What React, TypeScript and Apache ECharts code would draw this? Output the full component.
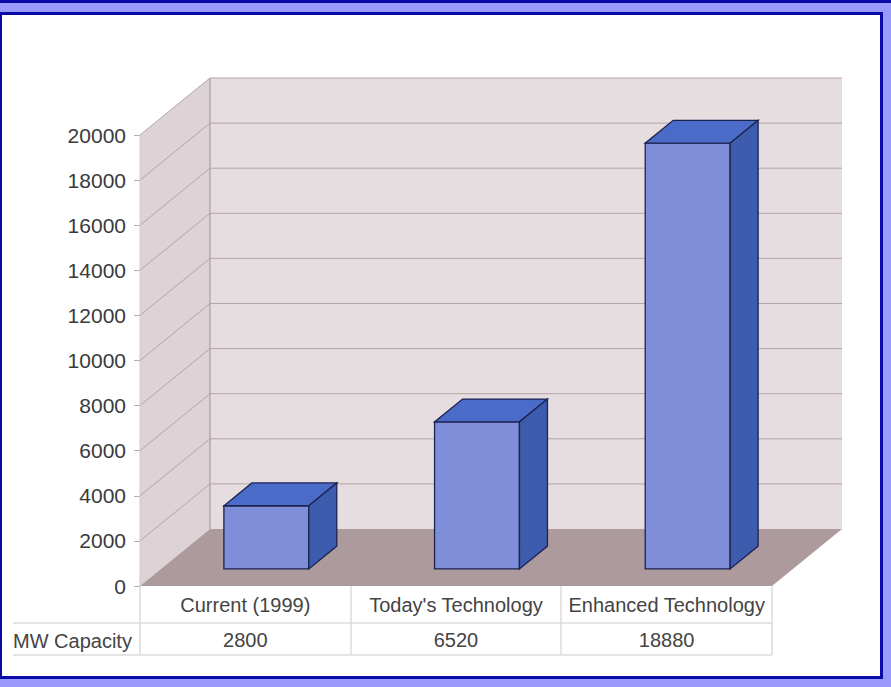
import React, { useEffect, useRef } from "react";
import * as echarts from "echarts";

// ---- data ----
const categories = ["Current (1999)", "Today's Technology", "Enhanced Technology"];
const capacityMW = [2800, 6520, 18880];
const rowLabel = "MW Capacity";
const yMin = 0;
const yMax = 20000;
const yStep = 2000;

// ---- 3D look ----
const DX = 70; // wall depth offset
const DY = -57;
const BAR_FRONT = 0.3; // bar front at fraction of depth
const BAR_BACK = 0.7;
const FONT = "'Liberation Sans', Arial, sans-serif";

export default function App() {
  const ref = useRef<HTMLDivElement>(null);

  useEffect(() => {
    if (!ref.current) return;
    const chart = echarts.init(ref.current, undefined, { renderer: "svg" });

    const tickVals: number[] = [];
    for (let v = yMin; v <= yMax; v += yStep) tickVals.push(v);

    const wallsRender = (params: any, api: any) => {
      const cs = params.coordSys;
      const left = cs.x;
      const right = cs.x + cs.width;
      const top = cs.y;
      const bottom = cs.y + cs.height;
      const children: any[] = [];
      children.push({
        type: "polygon",
        shape: { points: [[left, top], [left + DX, top + DY], [left + DX, bottom + DY], [left, bottom]] },
        style: { fill: "#ddd3d7" },
      });
      children.push({
        type: "polygon",
        shape: { points: [[left + DX, top + DY], [right + DX, top + DY], [right + DX, bottom + DY], [left + DX, bottom + DY]] },
        style: { fill: "#e6dde1" },
      });
      children.push({
        type: "polygon",
        shape: { points: [[left, bottom], [right, bottom], [right + DX, bottom + DY], [left + DX, bottom + DY]] },
        style: { fill: "#ad9a9c" },
      });
      tickVals.forEach((v) => {
        if (v === yMin) return;
        const y = api.coord([0, v])[1];
        children.push({
          type: "polyline",
          shape: { points: [[left, y], [left + DX, y + DY], [right + DX, y + DY]] },
          style: { stroke: "#b3a4a7", lineWidth: 1, fill: null },
        });
      });
      children.push({
        type: "line",
        shape: { x1: left + DX, y1: top + DY, x2: left + DX, y2: bottom + DY },
        style: { stroke: "#ab9c9f", lineWidth: 1.2 },
      });
      children.push({
        type: "line",
        shape: { x1: left, y1: top, x2: left, y2: bottom },
        style: { stroke: "#d2c9cc", lineWidth: 1 },
      });
      return { type: "group", children };
    };

    const barRender = (params: any, api: any) => {
      const xi = api.value(0);
      const val = api.value(1);
      const [cx, ty] = api.coord([xi, val]);
      const by = api.coord([xi, 0])[1];
      const slot = api.size([1, 0])[0];
      const w = slot * 0.403;
      const fx = DX * BAR_FRONT;
      const fy = DY * BAR_FRONT;
      const dx = DX * (BAR_BACK - BAR_FRONT);
      const dy = DY * (BAR_BACK - BAR_FRONT);
      const x0 = cx - w / 2 + fx;
      const x1 = cx + w / 2 + fx;
      const yT = ty + fy;
      const yB = by + fy;
      const stroke = "#1c2350";
      return {
        type: "group",
        children: [
          {
            type: "polygon",
            shape: { points: [[x0, yT], [x1, yT], [x1, yB], [x0, yB]] },
            style: { fill: "#7f8ed9", stroke, lineWidth: 1.3 },
          },
          {
            type: "polygon",
            shape: { points: [[x0, yT], [x1, yT], [x1 + dx, yT + dy], [x0 + dx, yT + dy]] },
            style: { fill: "#4b6bc8", stroke, lineWidth: 1.3 },
          },
          {
            type: "polygon",
            shape: { points: [[x1, yT], [x1 + dx, yT + dy], [x1 + dx, yB + dy], [x1, yB]] },
            style: { fill: "#3e5cae", stroke, lineWidth: 1.3 },
          },
        ],
      };
    };

    const gridLeft = 140;
    const gridRight = 772;
    const gridTop = 135;
    const gridBottom = 586;
    const lineColor = "#dedada";

    chart.setOption({
      animation: false,
      grid: {
        left: gridLeft,
        right: 891 - gridRight,
        top: gridTop,
        bottom: 687 - gridBottom,
        containLabel: false,
      },
      xAxis: [
        {
          type: "category",
          data: categories,
          axisLine: { show: false },
          axisTick: { show: false },
          axisLabel: { fontSize: 20, color: "#444", fontFamily: FONT, margin: 9, interval: 0 },
          splitLine: { show: false },
        },
        {
          type: "category",
          data: capacityMW.map((v) => String(v)),
          position: "bottom",
          offset: 35,
          axisLine: { show: false },
          axisTick: { show: false },
          axisLabel: { fontSize: 20, color: "#444", fontFamily: FONT, margin: 9, interval: 0 },
          splitLine: { show: false },
        },
      ],
      yAxis: {
        type: "value",
        min: yMin,
        max: yMax,
        interval: yStep,
        axisLine: { show: false },
        axisTick: { show: true, length: 6, lineStyle: { color: "#b8acae" } },
        axisLabel: {
          fontSize: 21,
          color: "#3a3a3a",
          fontFamily: FONT,
          margin: 14,
          formatter: (v: number) => String(v),
        },
        splitLine: { show: false },
      },
      graphic: [
        // data table lines
        { type: "line", shape: { x1: 13, y1: 623, x2: gridRight, y2: 623 }, style: { stroke: lineColor, lineWidth: 1.5 } },
        { type: "line", shape: { x1: 13, y1: 655, x2: gridRight, y2: 655 }, style: { stroke: lineColor, lineWidth: 1.5 } },
        { type: "line", shape: { x1: 140, y1: gridBottom, x2: 140, y2: 655 }, style: { stroke: lineColor, lineWidth: 1.5 } },
        { type: "line", shape: { x1: 351, y1: gridBottom, x2: 351, y2: 655 }, style: { stroke: lineColor, lineWidth: 1.5 } },
        { type: "line", shape: { x1: 561, y1: gridBottom, x2: 561, y2: 655 }, style: { stroke: lineColor, lineWidth: 1.5 } },
        { type: "line", shape: { x1: gridRight, y1: gridBottom, x2: gridRight, y2: 655 }, style: { stroke: lineColor, lineWidth: 1.5 } },
        {
          type: "text",
          x: 13,
          y: 641,
          style: { text: rowLabel, fontSize: 20, fill: "#444", fontFamily: FONT, textAlign: "left", textVerticalAlign: "middle" },
        },
      ],
      series: [
        {
          type: "custom",
          name: "walls",
          z: 1,
          silent: true,
          renderItem: wallsRender,
          data: [[0, 0]],
          encode: { x: 0, y: 1 },
        },
        {
          type: "custom",
          name: rowLabel,
          z: 3,
          renderItem: barRender,
          data: capacityMW.map((v, i) => [i, v]),
          encode: { x: 0, y: 1 },
        },
      ],
    });

    return () => chart.dispose();
  }, []);

  return (
    <div style={{ position: "fixed", left: 0, top: 0, width: 891, height: 687, background: "#9a9afa", overflow: "hidden" }}>
      <div style={{ position: "absolute", left: 0, top: 0, width: 891, height: 3, background: "#0a0aa8" }} />
      <div
        style={{
          position: "absolute",
          left: 0,
          top: 12,
          width: 883,
          height: 667,
          boxSizing: "border-box",
          border: "3px solid #0a0aa8",
          borderLeftWidth: 2,
          background: "#ffffff",
        }}
      />
      <div ref={ref} style={{ position: "absolute", left: 0, top: 0, width: 891, height: 687 }} />
    </div>
  );
}
